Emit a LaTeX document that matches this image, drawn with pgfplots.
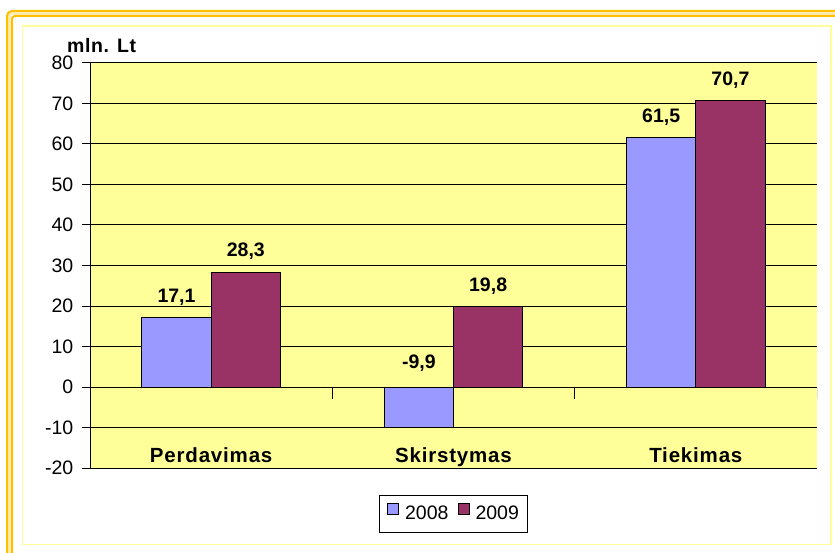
\documentclass[border=0pt]{standalone}
\usepackage{fontspec}
\setmainfont{Liberation Sans}
\newfontfamily\spfont[LetterSpace=3]{Liberation Sans}
\newfontfamily\catfont[LetterSpace=4]{Liberation Sans}
\usepackage{pgfplots}
\pgfplotsset{compat=1.18}
\definecolor{plotbg}{RGB}{255,255,153}
\definecolor{cA}{RGB}{153,153,255}
\definecolor{cB}{RGB}{153,51,102}
\definecolor{gold}{RGB}{255,192,0}
\definecolor{lyel}{RGB}{255,255,153}
\pgfplotsset{sqlegend/.style={legend image code/.code={\draw[##1, draw=black, line width=0.8pt] (0pt,0pt) rectangle (11pt,11pt); \path (-1pt,0pt) (15pt,0pt);}}}
\begin{document}
\fontsize{19.5}{23}\selectfont
\begin{tikzpicture}
\useasboundingbox (0,0) rectangle (835pt,552pt);
\clip (0,0) rectangle (835pt,552pt);
\fill[white] (0,0) rectangle (835pt,552pt);
\draw[gold!30, line width=3pt] (9.5pt,-20pt) -- (9.5pt,538.5pt) -- (860pt,538.5pt);
\draw[gold, line width=2pt, rounded corners=5pt] (7pt,-20pt) -- (7pt,541pt) -- (860pt,541pt);
\draw[gold, line width=2pt, rounded corners=3pt] (12pt,-20pt) -- (12pt,536pt) -- (860pt,536pt);
\draw[lyel, line width=1.8pt] (22.5pt,7.5pt) rectangle (831pt,526.3pt);
\begin{axis}[
  at={(90pt,84pt)}, anchor=south west,
  scale only axis, width=727pt, height=405pt,
  xmin=-0.5, xmax=2.5, ymin=-20, ymax=80,
  ytick distance=10,
  axis background/.style={fill=plotbg},
  axis x line*=bottom, axis y line*=left,
  x axis line style={draw=none},
  y axis line style={-, black, line width=1pt},
  ymajorgrids, grid style={black, line width=1pt},
  tick align=outside, major tick length=8pt,
  ytick style={black, line width=1pt},
  yticklabel style={xshift=-2pt},
  xtick={0,1,2}, xticklabels={Perdavimas,Skirstymas,Tiekimas},
  xtick style={draw=none},
  xticklabel style={font=\catfont\fontsize{20.5}{24}\selectfont\bfseries, anchor=base, yshift=14pt},
  /pgf/number format/assume math mode=true,
  legend style={at={(0.5,-0.0667)}, anchor=north, draw=black, line width=1pt,
    font=\fontsize{19.5}{23}\selectfont, inner xsep=7pt, inner ysep=7.5pt,
    /tikz/every even column/.append style={column sep=6pt}},
  legend columns=2,
]
\addplot[ybar, bar width=0.2857, bar shift=-0.1429, fill=cA, draw=black, line width=1pt, sqlegend]
  coordinates {(0,17.1) (1,-9.9) (2,61.5)};
\addplot[ybar, bar width=0.2857, bar shift=0.1429, fill=cB, draw=black, line width=1pt, sqlegend]
  coordinates {(0,28.3) (1,19.8) (2,70.7)};
\legend{2008,2009}
\addplot[forget plot, only marks, mark=none, point meta=explicit,
  nodes near coords={\pgfmathprintnumber[use comma, fixed, fixed zerofill, precision=1]{\pgfplotspointmeta}},
  nodes near coords style={anchor=base, yshift=15.5pt, font=\bfseries, inner sep=0pt}]
  coordinates {(-0.1429,17.1) [17.1] (0.8571,0.74) [-9.9] (1.8571,61.5) [61.5]
               (0.1429,28.3) [28.3] (1.1429,19.8) [19.8] (2.1429,70.7) [70.7]};
\pgfplotsinvokeforeach{-0.5,0.5,1.5,2.5}{
  \draw[black, line width=1pt] (axis cs:#1,0) -- ([yshift=-12pt]axis cs:#1,0);
}
\end{axis}
\node[anchor=base west, font=\spfont\bfseries, inner sep=0pt] at (67pt,499.3pt) {mln. Lt};
\end{tikzpicture}
\end{document}
